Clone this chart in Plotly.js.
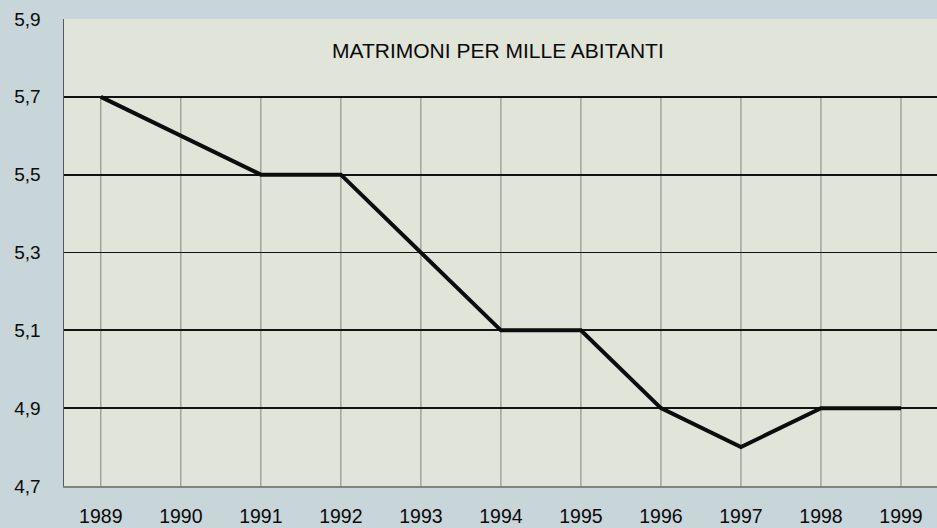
<!DOCTYPE html>
<html>
<head>
<meta charset="utf-8">
<script src="https://cdn.plot.ly/plotly-3.0.1.min.js"></script>
<style>
html,body{margin:0;padding:0;background:#c8d5d9;}
#chart{width:937px;height:528px;}
</style>
</head>
<body>
<div id="chart"></div>
<script>
const years = [1989, 1990, 1991, 1992, 1993, 1994, 1995, 1996, 1997, 1998, 1999];
const yearLabels = ["1989", "1990", "1991", "1992", "1993", "1994", "1995", "1996", "1997", "1998", "1999"];
const marriagesPerThousand = [5.7, 5.6, 5.5, 5.5, 5.3, 5.1, 5.1, 4.9, 4.8, 4.9, 4.9];
const yTicks = [4.7, 4.9, 5.1, 5.3, 5.5, 5.7, 5.9];
const chartTitle = "MATRIMONI PER MILLE ABITANTI";

const yMin = yTicks[0];
const gridTop = yTicks[yTicks.length - 2];

const shapes = years.map(yr => ({
  type: 'line', xref: 'x', yref: 'y', layer: 'below',
  x0: yr, x1: yr, y0: yMin, y1: gridTop,
  line: {color: '#80857f', width: 1}
}));

const trace = {
  x: years,
  y: marriagesPerThousand,
  type: 'scatter',
  mode: 'lines',
  line: {color: '#0c0c0c', width: 4},
  hoverinfo: 'skip'
};

const layout = {
  width: 937, height: 528,
  margin: {l: 64, r: 0, t: 19, b: 42},
  paper_bgcolor: '#c8d5d9',
  plot_bgcolor: '#e0e4d9',
  separators: ',.',
  showlegend: false,
  font: {family: 'Liberation Sans, Arial, sans-serif', color: '#0a0a0a'},
  xaxis: {
    range: [1988.54, 1999.45],
    tickvals: years,
    ticktext: yearLabels,
    showgrid: false,
    zeroline: false,
    showline: true,
    linecolor: '#7f847f',
    linewidth: 1.5,
    ticks: 'outside', ticklen: 12, tickcolor: 'rgba(0,0,0,0)',
    tickfont: {size: 19.5, color: '#0a0a0a'},
    fixedrange: true
  },
  yaxis: {
    range: [4.7, 5.9],
    tickvals: yTicks,
    tickformat: '.1f',
    showgrid: true,
    gridcolor: '#121212',
    gridwidth: 1.7,
    zeroline: false,
    showline: true,
    linecolor: '#555a58',
    linewidth: 1.5,
    ticks: 'outside', ticklen: 18, tickcolor: 'rgba(0,0,0,0)',
    tickfont: {size: 19, color: '#0a0a0a'},
    fixedrange: true
  },
  shapes: shapes,
  annotations: [{
    text: chartTitle,
    xref: 'paper', yref: 'y',
    x: 0.497, y: 5.82,
    showarrow: false,
    font: {size: 21, color: '#0a0a0a', family: 'Liberation Sans, Arial, sans-serif'}
  }]
};

Plotly.newPlot('chart', [trace], layout, {displayModeBar: false, staticPlot: true});
</script>
</body>
</html>
